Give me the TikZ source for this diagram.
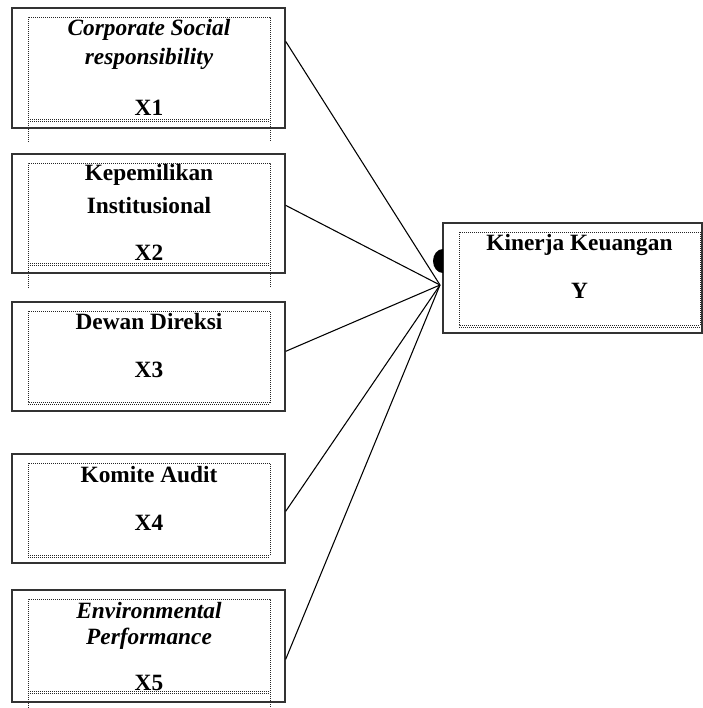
\documentclass[tikz,border=0pt]{standalone}
\usepackage{fontspec}
\setmainfont{Liberation Serif}
\begin{document}
\begin{tikzpicture}[x=0.75pt,y=-0.75pt,
  outerbox/.style={draw=black!80,line width=1pt,inner sep=0pt},
  dotframe/.style={draw=black!85,line width=0.75pt,dash pattern=on 0.75pt off 0.75pt},
  lbl/.style={anchor=base,inner sep=0pt,font=\fontsize{17.5}{21}\selectfont\bfseries},
  conn/.style={draw=black,line width=0.8pt}]
\useasboundingbox (0,0) rectangle (703,708);
% outer boxes
\node[outerbox,minimum width=204.75pt,minimum height=90pt] (b1) at (148.5,68) {};
\node[outerbox,minimum width=204.75pt,minimum height=89.25pt] (b2) at (148.5,213.5) {};
\node[outerbox,minimum width=204.75pt,minimum height=81.75pt] (b3) at (148.5,356.5) {};
\node[outerbox,minimum width=204.75pt,minimum height=81.75pt] (b4) at (148.5,508.5) {};
\node[outerbox,minimum width=204.75pt,minimum height=84pt] (b5) at (148.5,646) {};
\node[outerbox,minimum width=194.25pt,minimum height=82.5pt] (by) at (572.5,278) {};
% dotted inner frames
\draw[dotframe] (28,142) -- (28,17) -- (270,17) -- (270,142);
\draw[dotframe] (28,119) -- (270,119) (28,121) -- (270,121);
\draw[dotframe] (28,288) -- (28,163) -- (270,163) -- (270,288);
\draw[dotframe] (28,263) -- (270,263) (28,265) -- (270,265);
\draw[dotframe] (28,311) rectangle (270,402);
\draw[dotframe] (28,404) -- (270,404);
\draw[dotframe] (28,463) rectangle (270,555);
\draw[dotframe] (28,557) -- (270,557);
\draw[dotframe] (28,708) -- (28,599) -- (270,599) -- (270,708);
\draw[dotframe] (28,691) -- (270,691) (28,693) -- (270,693);
\draw[dotframe] (459,232) rectangle (700,325);
\draw[dotframe] (459,327) -- (700,327);
% labels
\node[lbl] (t1a) at (149,35) {\itshape Corporate Social};
\node[lbl] (t1b) at (149,64) {\itshape responsibility};
\node[lbl] (t1c) at (149,115) {X1};
\node[lbl] (t2a) at (149,180) {Kepemilikan};
\node[lbl] (t2b) at (149,213) {Institusional};
\node[lbl] (t2c) at (149,260) {X2};
\node[lbl] (t3a) at (149,329) {Dewan Direksi};
\node[lbl] (t3c) at (149,377) {X3};
\node[lbl] (t4a) at (149,482) {Komite Audit};
\node[lbl] (t4c) at (149,530) {X4};
\node[lbl] (t5a) at (149,618) {\itshape Environmental};
\node[lbl] (t5b) at (149,644) {\itshape Performance};
\node[lbl] (t5c) at (149,690) {X5};
\node[lbl] (tya) at (579.5,250) {Kinerja Keuangan};
\node[lbl] (tyc) at (579.5,298) {Y};
% junction
\coordinate (J) at (440,285);
\fill (443,273) arc[start angle=90,end angle=270,x radius=10,y radius=12] -- cycle;
% connectors
\draw[conn] ([yshift=-25.5pt]b1.north east) -- (J);
\draw[conn] ([yshift=-39pt]b2.north east) -- (J);
\draw[conn] ([yshift=-37.5pt]b3.north east) -- (J);
\draw[conn] ([yshift=-43.5pt]b4.north east) -- (J);
\draw[conn] ([yshift=-52.5pt]b5.north east) -- (J);
\end{tikzpicture}
\end{document}
